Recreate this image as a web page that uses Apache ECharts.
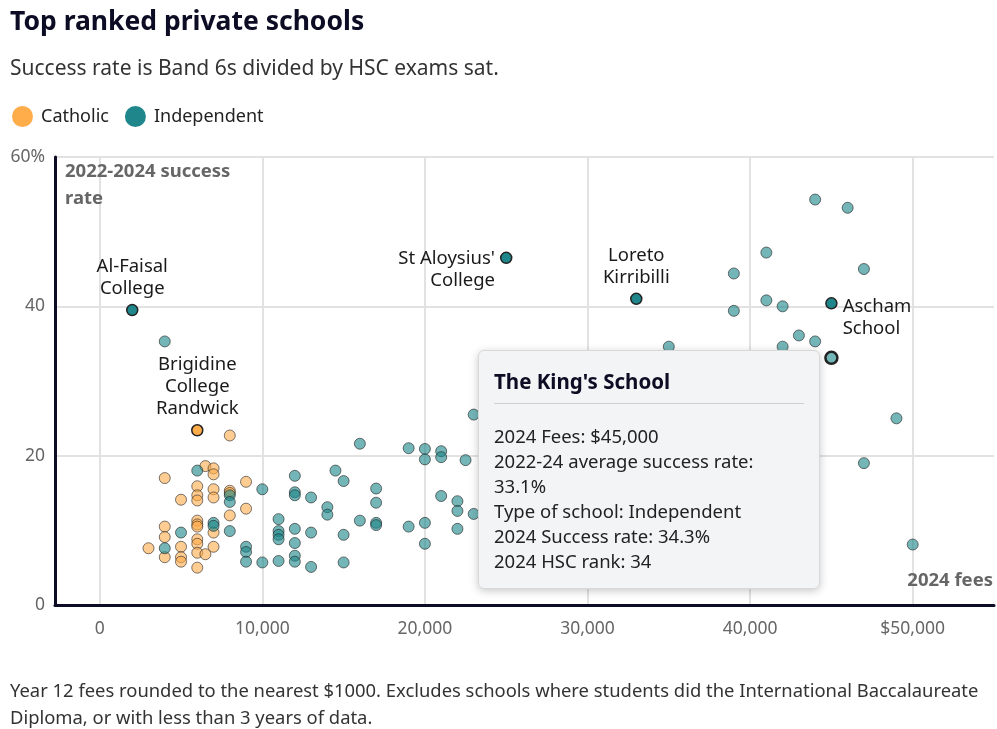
<!DOCTYPE html>
<html><head><meta charset="utf-8">
<script src="https://cdn.jsdelivr.net/npm/echarts@6/dist/echarts.min.js"></script>
<style>html,body{margin:0;padding:0;background:#fff}#c{width:997px;height:729px}</style>
</head><body><div id="c"></div>
<script>
// ---- data (fees in $, 2022-2024 success rate in %) ----
const catholicFees  = [8000, 6500, 7000, 7000, 4000, 9000, 6000, 7000, 8000, 8000, 6000, 6000, 5000, 7000, 8000, 9000, 6000, 6000, 6000, 7000, 4000, 4000, 6000, 6000, 3000, 4000, 5000, 5000, 5000, 6000, 6500, 7000, 6000];
const catholicRates = [22.7, 18.6, 18.3, 17.5, 17.0, 16.5, 15.9, 15.5, 15.3, 15.0, 14.7, 14.0, 14.1, 14.4, 12.0, 12.9, 11.3, 10.8, 10.5,  9.7, 10.5,  9.1,  8.8,  8.2,  7.6,  6.4,  7.8,  6.4,  5.8,  7.0,  6.8,  7.8,  5.0];

const independentFees  = [4000, 6000, 8000, 8000, 7000, 7000, 5000, 8000, 4000, 9000, 9000, 9000, 10000, 10000, 11000, 11000, 11000, 11000, 11000, 12000, 12000, 12000, 12000, 12000, 12000, 12000, 13000, 13000, 13000, 14000, 14000, 14500, 15000, 15000, 15000, 16000, 16000, 17000, 17000, 17000, 17000, 19000, 19000, 20000, 20000, 20000, 20000, 21000, 21000, 21000, 22000, 22000, 22000, 22500, 23000, 23000, 35000, 39000, 39000, 41000, 41000, 42000, 42000, 43000, 44000, 44000, 46000, 47000, 49000, 47000, 50000];
const independentRates = [35.3, 18.0, 14.7, 13.8, 11.0, 10.6,  9.7,  9.9,  7.6,  7.8,  7.1,  5.8,   5.7,  15.5,  11.5,   9.9,   9.4,   8.8,   5.9,  17.3,  15.1,  14.7,  10.2,   8.3,   6.6,   5.8,  14.4,   9.7,   5.1,  13.1,  12.1,  18.0,  16.6,   9.4,   5.7,  21.6,  11.3,  15.6,  13.7,  11.0,  10.7,  21.0,  10.5,  20.9,  19.5,  11.0,   8.2,  20.6,  19.8,  14.6,  13.9,  12.6,  10.2,  19.4,  25.5,  12.2,  34.6,  44.4,  39.4,  47.2,  40.8,  40.0,  34.6,  36.1,  35.3,  54.3,  53.2,  45.0,  25.0,  19.0,   8.1];

const namedSchools = ['Al-Faisal\nCollege', 'Brigidine\nCollege\nRandwick', "St Aloysius'\nCollege", 'Loreto\nKirribilli', 'Ascham\nSchool'];
const namedTypes   = ['Independent', 'Catholic', 'Independent', 'Independent', 'Independent'];
const namedFees    = [2000, 6000, 25000, 33000, 45000];
const namedRates   = [39.5, 23.4, 46.5, 41.0, 40.4];

const hoverName     = "The King's School";
const hoverType     = 'Independent';
const hoverFees     = 45000;
const hoverRate     = 33.1;
const hoverRate2024 = 34.3;
const hoverRank     = 34;

const xTickValues = [0, 10000, 20000, 30000, 40000, 50000];
const xTickLabels = ['0', '10,000', '20,000', '30,000', '40,000', '$50,000'];
const yTickLabels = {0: '0', 20: '20', 40: '40', 60: '60%'};

// ---- styles ----
const FONT = '"Noto Sans", sans-serif';
const ORANGE = '#ffac4a', TEAL = '#1f878b';
const typeColor = t => t === 'Catholic' ? ORANGE : TEAL;
const labelPlacement = [
  {position: 'top', distance: 4, align: 'center'},
  {position: 'top', distance: 4, align: 'center'},
  {position: 'left', distance: 5, align: 'right', offset: [0, 12]},
  {position: 'top', distance: 4, align: 'center'},
  {position: 'right', distance: 5, align: 'left', offset: [0, 14]}
];

const chart = echarts.init(document.getElementById('c'), null, {renderer: 'canvas'});

const option = {
  animation: false,
  textStyle: {fontFamily: FONT},
  title: [
    {text: 'Top ranked private schools', left: 5, top: 4,
     textStyle: {fontFamily: FONT, fontSize: 26.5, fontWeight: 'bold', color: '#0c0c24'}},
    {text: 'Success rate is Band 6s divided by HSC exams sat.', left: 5, top: 54,
     textStyle: {fontFamily: FONT, fontSize: 21, fontWeight: 'normal', color: '#333'}},
    {text: 'Year 12 fees rounded to the nearest $1000. Excludes schools where students did the International Baccalaureate\nDiploma, or with less than 3 years of data.',
     left: 5, top: 673,
     textStyle: {fontFamily: FONT, fontSize: 18.4, fontWeight: 'normal', color: '#333', lineHeight: 27}}
  ],
  legend: {
    data: ['Catholic', 'Independent'],
    left: 7, top: 101, itemWidth: 21, itemHeight: 21, itemGap: 16, icon: 'circle',
    itemStyle: {opacity: 1, borderWidth: 0},
    textStyle: {fontFamily: FONT, fontSize: 18, color: '#222', padding: [0, 0, 0, 3]}
  },
  grid: {left: 55, right: 3, top: 157, bottom: 124},
  xAxis: {
    type: 'value', min: -2750, max: 55000,
    axisLine: {show: true, onZero: false, lineStyle: {color: '#0c0c24', width: 3}},
    axisTick: {show: false, customValues: xTickValues},
    axisLabel: {customValues: xTickValues, color: '#666', fontSize: 17.5, fontFamily: FONT, margin: 15,
      formatter: v => xTickLabels[xTickValues.indexOf(v)]},
    splitLine: {show: true, lineStyle: {color: '#e2e2e2', width: 2}}
  },
  yAxis: {
    type: 'value', min: 0, max: 60, interval: 20,
    axisLine: {show: true, onZero: false, lineStyle: {color: '#0c0c24', width: 3}},
    axisTick: {show: false},
    axisLabel: {color: '#666', fontSize: 17.5, fontFamily: FONT, margin: 10, formatter: v => yTickLabels[v]},
    splitLine: {show: true, lineStyle: {color: '#e2e2e2', width: 2}}
  },
  graphic: [
    {type: 'text', left: 65, top: 158, silent: true, z: 10,
     style: {text: '2022-2024 success\nrate', fontFamily: FONT, fontSize: 18.5, fontWeight: 'bold', fill: '#666', lineHeight: 27}},
    {type: 'text', right: 4, top: 571, silent: true, z: 10,
     style: {text: '2024 fees', fontFamily: FONT, fontSize: 18.5, fontWeight: 'bold', fill: '#666'}}
  ],
  tooltip: {
    trigger: 'item', triggerOn: 'none', alwaysShowContent: true, transitionDuration: 0,
    position: [478, 350],
    backgroundColor: '#f3f4f6', borderColor: '#d8d8d8', borderWidth: 1, padding: [18, 15, 15, 15],
    extraCssText: 'box-shadow:0 2px 8px rgba(0,0,0,0.22);border-radius:6px;width:310px;',
    formatter: () =>
      '<div style="font-family:' + FONT.replace(/"/g, "'") + ';">' +
      '<div style="font-weight:700;font-size:20.5px;color:#0c0c24;line-height:24px;padding-bottom:10px;border-bottom:1px solid #cfcfcf;margin-bottom:19px">' + hoverName + '</div>' +
      '<div style="font-size:18.5px;line-height:25px;color:#222;white-space:nowrap">' +
      '2024 Fees: $' + hoverFees.toLocaleString('en-US') + '<br>' +
      '2022-24 average success rate:<br>' + hoverRate.toFixed(1) + '%<br>' +
      'Type of school: ' + hoverType + '<br>' +
      '2024 Success rate: ' + hoverRate2024.toFixed(1) + '%<br>' +
      '2024 HSC rank: ' + hoverRank +
      '</div></div>'
  },
  series: [
    {
      name: 'Catholic', type: 'scatter', symbolSize: 11, z: 2,
      data: catholicFees.map((f, i) => [f, catholicRates[i]]),
      itemStyle: {color: ORANGE, opacity: 0.6, borderColor: '#222', borderWidth: 1},
      emphasis: {disabled: true}
    },
    {
      name: 'Independent', type: 'scatter', symbolSize: 11, z: 2,
      data: independentFees.map((f, i) => [f, independentRates[i]]),
      itemStyle: {color: TEAL, opacity: 0.62, borderColor: '#222', borderWidth: 1},
      emphasis: {disabled: true}
    },
    {
      name: 'Named', type: 'scatter', symbolSize: 11, z: 3,
      data: namedFees.map((f, i) => ({
        value: [f, namedRates[i]],
        itemStyle: {color: typeColor(namedTypes[i]), opacity: 1, borderColor: '#222', borderWidth: 1.5},
        label: Object.assign({show: true, formatter: namedSchools[i], fontFamily: FONT, fontSize: 18.5,
          color: '#1a1a1a', lineHeight: 22}, labelPlacement[i])
      })),
      emphasis: {disabled: true}
    },
    {
      name: hoverName, type: 'scatter', symbolSize: 12, z: 4,
      data: [[hoverFees, hoverRate]],
      itemStyle: {color: '#72b6b8', opacity: 1, borderColor: '#222', borderWidth: 2.5},
      emphasis: {disabled: true}
    }
  ]
};

chart.setOption(option);
chart.dispatchAction({type: 'showTip', seriesIndex: 3, dataIndex: 0});
setTimeout(() => chart.dispatchAction({type: 'showTip', seriesIndex: 3, dataIndex: 0}), 50);
</script>
</body></html>
